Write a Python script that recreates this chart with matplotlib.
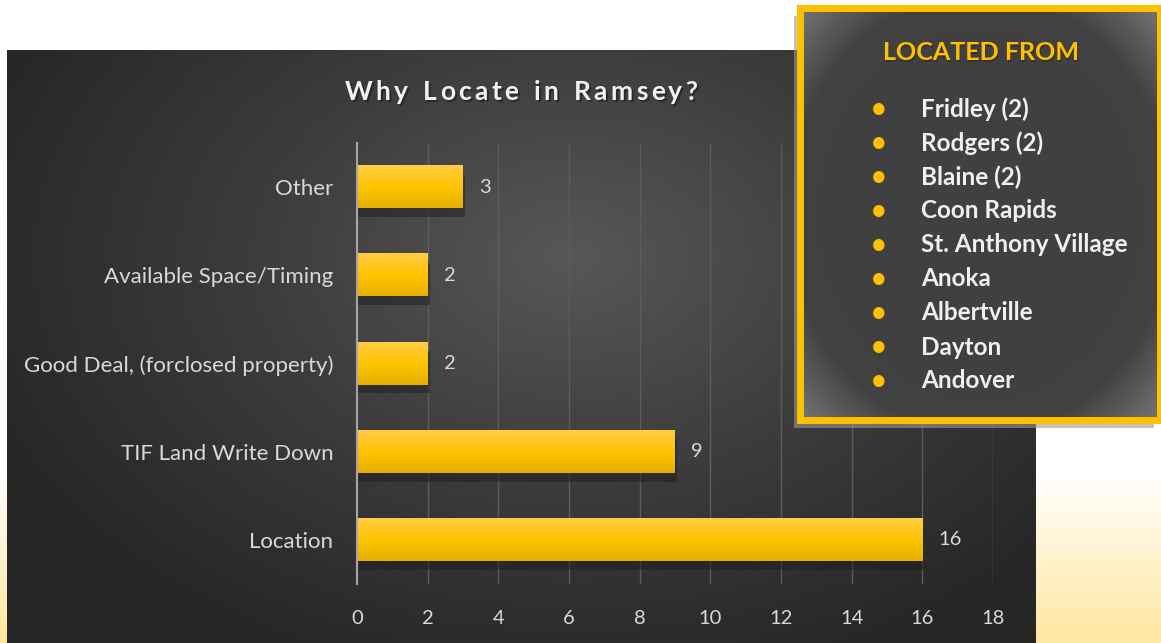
import numpy as np
import matplotlib
matplotlib.use('Agg')
import matplotlib.pyplot as plt
from matplotlib.colors import LinearSegmentedColormap
from matplotlib.patches import Rectangle

plt.rcParams['font.family'] = ['Lato', 'DejaVu Sans']

# data
reasons = ['Location', 'TIF Land Write Down', 'Good Deal, (forclosed property)',
           'Available Space/Timing', 'Other']
counts = [16, 9, 2, 2, 3]
xticks = [0, 2, 4, 6, 8, 10, 12, 14, 16, 18]
title = 'Why Locate in Ramsey?'
legend_title = 'LOCATED FROM'
cities = ['Fridley (2)', 'Rodgers (2)', 'Blaine (2)', 'Coon Rapids',
          'St. Anthony Village', 'Anoka', 'Albertville', 'Dayton', 'Andover']

W, H = 1161, 643
fig = plt.figure(figsize=(W / 100, H / 100), dpi=100)


def tracked_text(fig, xc, yc, s, track, **kw):
    # draw text char by char with extra letter spacing (pixels), centred at xc
    r = fig.canvas.get_renderer()
    widths = []
    for ch in s:
        t = fig.text(0, 0, ch if ch != ' ' else 'n', **kw)
        widths.append(t.get_window_extent(r).width * (0.55 if ch == ' ' else 1))
        t.remove()
    total = sum(widths) + track * (len(s) - 1)
    x = xc - total / 2
    for ch, w in zip(s, widths):
        if ch != ' ':
            fig.text(x / W, yc, ch, ha='left', va='center', **kw)
        x += w + track


# page background: white fading to pale yellow at the bottom
bg = fig.add_axes([0, 0, 1, 1])
yy = np.linspace(0, 1, 200)[:, None]
fade = np.clip((yy - 0.74) / 0.26, 0, 1)
bg_cmap = LinearSegmentedColormap.from_list('pg', ['#ffffff', '#ffe7a0'])
bg.imshow(fade * np.ones((1, 10)), cmap=bg_cmap, aspect='auto',
          extent=[0, 1, 0, 1], origin='upper', vmin=0, vmax=1)
bg.set_xlim(0, 1)
bg.set_ylim(0, 1)
bg.axis('off')

# dark chart panel with soft gradient
panel = fig.add_axes([7 / W, 0, (1036 - 7) / W, (H - 50) / H])
gx, gy = np.meshgrid(np.linspace(0, 1, 300), np.linspace(0, 1, 200))
d = np.sqrt(((gx - 0.55) * 1.2) ** 2 + ((gy - 0.35) * 1.0) ** 2)
pan_cmap = LinearSegmentedColormap.from_list('pn', ['#575757', '#3c3c3c', '#262626'])
panel.imshow(d, cmap=pan_cmap, aspect='auto', extent=[0, 1, 0, 1],
             origin='upper', vmin=0, vmax=0.75)
panel.set_xlim(0, 1)
panel.set_ylim(0, 1)
panel.axis('off')

# title with a slight drop shadow
tracked_text(fig, 523, 1 - 94 / H, title, 3.4, color='#1c1c1c', alpha=0.6,
             fontsize=19, fontweight='bold')
tracked_text(fig, 521, 1 - 92 / H, title, 3.4, color='#f2f2f2',
             fontsize=19, fontweight='bold')

# bar chart
ax = fig.add_axes([357 / W, 1 - 584 / H, 636 / W, (584 - 143) / H])
ax.patch.set_alpha(0)
ypos = np.arange(len(reasons))
bar_h = 0.48
ax.set_xlim(0, 18)
ax.set_ylim(-0.5, len(reasons) - 0.5)
for x in xticks[1:]:
    ax.axvline(x, color='#5c5c5c', lw=1.0, zorder=0)

bar_cmap = LinearSegmentedColormap.from_list('br', ['#ffcc45', '#ffc400', '#e6b000'])
grad = np.linspace(0, 1, 50)[:, None]
for y, v in zip(ypos, counts):
    ax.add_patch(Rectangle((0, y - bar_h / 2 - 0.1), v + 0.06, bar_h,
                           color='#1e1e1e', alpha=0.5, lw=0, zorder=1))
    ax.imshow(grad, cmap=bar_cmap, aspect='auto',
              extent=[0, v, y - bar_h / 2, y + bar_h / 2],
              origin='upper', zorder=2)
    ax.text(v + 0.45, y, str(v), color='#d9d9d9', fontsize=14.5,
            ha='left', va='center')
ax.set_xlim(0, 18)
ax.set_ylim(-0.5, len(reasons) - 0.5)

ax.set_yticks(ypos)
ax.set_yticklabels(reasons)
ax.set_xticks(xticks)
ax.tick_params(axis='both', length=0, colors='#d9d9d9', labelsize=14.5)
ax.tick_params(axis='y', pad=17, labelsize=16)
ax.tick_params(axis='x', pad=19)
for s in ['top', 'right', 'bottom']:
    ax.spines[s].set_visible(False)
ax.spines['left'].set_color('#a6a6a6')
ax.spines['left'].set_linewidth(1.5)

# "located from" box
lg_shadow = fig.add_axes([794 / W, 1 - 428 / H, 360 / W, 412 / H])
lg_shadow.add_patch(Rectangle((0, 0), 1, 1, color='#9a9a9a', alpha=0.6, lw=0))
lg_shadow.axis('off')

lg = fig.add_axes([800 / W, 1 - 420 / H, 360 / W, 412 / H])
gx, gy = np.meshgrid(np.linspace(-1, 1, 200), np.linspace(-1, 1, 200))
r = np.sqrt(gx ** 2 + gy ** 2)
lg_cmap = LinearSegmentedColormap.from_list('lg', ['#404040', '#424242', '#737373'])
lg.imshow(np.clip((r - 0.75) / 0.65, 0, 1), cmap=lg_cmap, aspect='auto',
          extent=[0, 1, 0, 1], vmin=0, vmax=1)
lg.set_xlim(0, 1)
lg.set_ylim(0, 1)
lg.set_xticks([])
lg.set_yticks([])
for s in lg.spines.values():
    s.set_color('#ffc000')
    s.set_linewidth(5)

fig.text(982 / W, 1 - 54 / H, legend_title, color='#2a2a2a', alpha=0.6,
         fontsize=18, fontweight='bold', ha='center', va='center')
fig.text(981 / W, 1 - 52 / H, legend_title, color='#ffc000', fontsize=18,
         fontweight='bold', ha='center', va='center')
for i, c in enumerate(cities):
    yc = 1 - (109 + i * 34) / H
    fig.text(879 / W, yc, '\u2022', color='#ffc000', fontsize=22,
             ha='center', va='center')
    fig.text(921 / W, yc, c, color='#f0f0f0', fontsize=17.5,
             fontweight='bold', ha='left', va='center')

fig.savefig('out.png', dpi=100)
